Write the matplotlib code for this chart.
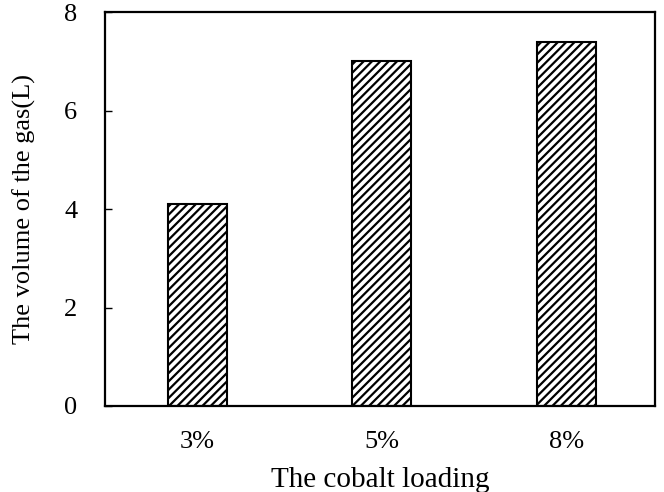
import matplotlib
matplotlib.use('Agg')
import matplotlib.pyplot as plt

# Данные
loadings = ['3%', '5%', '8%']
gas_volume = [4.1, 7.0, 7.4]

plt.rcParams['font.family'] = ['Liberation Serif', 'DejaVu Serif']
plt.rcParams['hatch.linewidth'] = 1.6

fig = plt.figure(figsize=(6.64, 4.92), dpi=100)
ax = fig.add_axes([0.158, 0.175, 0.828, 0.8])

x = range(len(loadings))
ax.bar(x, gas_volume, width=0.32, color='white', edgecolor='black',
       linewidth=1.5, hatch='////')

ax.set_xlim(-0.5, 2.48)
ax.set_ylim(0, 8)
ax.set_yticks([0, 2, 4, 6, 8])
ax.set_xticks(list(x))
ax.set_xticklabels(loadings)
ax.tick_params(axis='y', direction='in', length=5, width=1, labelsize=19, pad=20)
ax.tick_params(axis='x', length=0, labelsize=19, pad=18)
for s in ax.spines.values():
    s.set_linewidth(1.6)

ax.set_xlabel('The cobalt loading', fontsize=21, labelpad=10)
ax.set_ylabel('The volume of the gas(L)', fontsize=19, labelpad=20)

fig.savefig('out.png', dpi=100)
